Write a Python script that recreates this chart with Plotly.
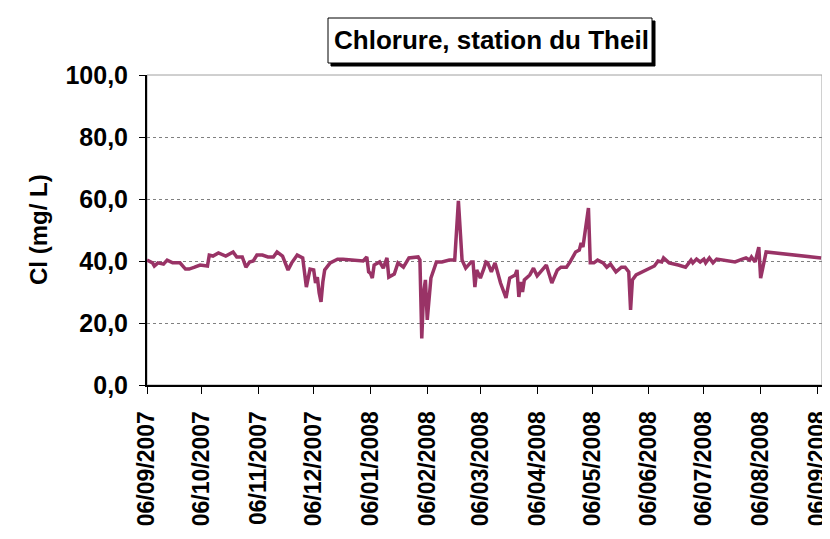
import plotly.graph_objects as go

# Chlorure measurements, station du Theil (mg/L)
dates = [
    "2007-09-06", "2007-09-09", "2007-09-10", "2007-09-12", "2007-09-15", "2007-09-17",
    "2007-09-20", "2007-09-24", "2007-09-27", "2007-09-29", "2007-10-02", "2007-10-05",
    "2007-10-09", "2007-10-10", "2007-10-12", "2007-10-15", "2007-10-19", "2007-10-23",
    "2007-10-25", "2007-10-28", "2007-10-30", "2007-11-01", "2007-11-03", "2007-11-05",
    "2007-11-08", "2007-11-11", "2007-11-14", "2007-11-16", "2007-11-19", "2007-11-22",
    "2007-11-24", "2007-11-27", "2007-11-30", "2007-12-01", "2007-12-02", "2007-12-04",
    "2007-12-06", "2007-12-07", "2007-12-08", "2007-12-09", "2007-12-10", "2007-12-11",
    "2007-12-12", "2007-12-15", "2007-12-19", "2007-12-22", "2007-12-27", "2007-12-29",
    "2008-01-02", "2008-01-04", "2008-01-05", "2008-01-06", "2008-01-07", "2008-01-08",
    "2008-01-11", "2008-01-13", "2008-01-15", "2008-01-16", "2008-01-19", "2008-01-21",
    "2008-01-24", "2008-01-27", "2008-02-01", "2008-02-02", "2008-02-03", "2008-02-04",
    "2008-02-05", "2008-02-06", "2008-02-08", "2008-02-11", "2008-02-14", "2008-02-18",
    "2008-02-21", "2008-02-23", "2008-02-25", "2008-02-27", "2008-03-01", "2008-03-02",
    "2008-03-03", "2008-03-04", "2008-03-06", "2008-03-08", "2008-03-09", "2008-03-10",
    "2008-03-12", "2008-03-14", "2008-03-17", "2008-03-20", "2008-03-22", "2008-03-25",
    "2008-03-26", "2008-03-27", "2008-03-28", "2008-03-29", "2008-03-30", "2008-04-02",
    "2008-04-04", "2008-04-06", "2008-04-11", "2008-04-14", "2008-04-17", "2008-04-19",
    "2008-04-22", "2008-04-24", "2008-04-27", "2008-04-29", "2008-04-30", "2008-05-01",
    "2008-05-04", "2008-05-05", "2008-05-07", "2008-05-09", "2008-05-12", "2008-05-14",
    "2008-05-16", "2008-05-19", "2008-05-22", "2008-05-24", "2008-05-26", "2008-05-27",
    "2008-05-28", "2008-05-30", "2008-06-04", "2008-06-09", "2008-06-11", "2008-06-13",
    "2008-06-14", "2008-06-17", "2008-06-22", "2008-06-26", "2008-06-29", "2008-06-30",
    "2008-07-02", "2008-07-04", "2008-07-06", "2008-07-07", "2008-07-09", "2008-07-11",
    "2008-07-13", "2008-07-22", "2008-07-23", "2008-07-27", "2008-07-29", "2008-07-31",
    "2008-08-01", "2008-08-03", "2008-08-05", "2008-08-06", "2008-08-09", "2008-09-08",
]
chlorure = [
    40.3, 39.4, 38.4, 39.4, 39.0, 40.3,
    39.4, 39.4, 37.4, 37.4, 38.0, 38.7,
    38.4, 41.9, 41.6, 42.6, 41.6, 42.9,
    41.3, 41.3, 38.0, 39.7, 40.0, 41.9,
    41.9, 41.3, 41.3, 42.9, 41.6, 37.1,
    39.4, 41.9, 41.0, 36.1, 31.6, 37.4,
    37.1, 32.9, 34.8, 29.7, 26.8, 33.2,
    37.1, 39.4, 40.6, 40.6, 40.3, 40.0,
    40.0, 41.3, 36.5, 36.0, 34.5, 38.7,
    39.7, 37.7, 41.0, 34.8, 35.8, 39.4,
    38.0, 41.0, 41.3, 40.3, 15.0, 29.7,
    33.9, 21.0, 34.5, 39.7, 39.7, 40.3,
    40.3, 59.4, 40.3, 37.7, 39.7, 39.7,
    31.6, 37.1, 34.5, 37.7, 39.7, 39.4,
    36.5, 39.4, 32.9, 28.1, 34.5, 35.5,
    37.1, 28.4, 33.2, 30.0, 33.9, 35.5,
    37.7, 35.2, 38.7, 32.9, 37.1, 38.0,
    38.0, 39.7, 42.9, 43.5, 45.8, 44.5,
    57.1, 39.4, 39.4, 40.3, 39.4, 38.0,
    39.0, 36.5, 38.0, 38.0, 36.5, 24.2,
    33.9, 35.5, 36.8, 38.4, 40.0, 39.7,
    41.0, 39.4, 38.7, 38.0, 40.3, 39.4,
    40.6, 39.7, 40.6, 39.4, 41.0, 39.4,
    40.6, 40.0, 39.7, 40.6, 41.0, 40.3,
    41.3, 39.7, 44.5, 34.5, 42.9, 41.0,
]

x_ticks = [
    "2007-09-06", "2007-10-06", "2007-11-06", "2007-12-06", "2008-01-06", "2008-02-06",
    "2008-03-06", "2008-04-06", "2008-05-06", "2008-06-06", "2008-07-06", "2008-08-06",
    "2008-09-06",
]
x_labels = [
    "06/09/2007", "06/10/2007", "06/11/2007", "06/12/2007", "06/01/2008", "06/02/2008",
    "06/03/2008", "06/04/2008", "06/05/2008", "06/06/2008", "06/07/2008", "06/08/2008",
    "06/09/2008",
]
y_ticks = [0, 20, 40, 60, 80, 100]
y_labels = ["0,0", "20,0", "40,0", "60,0", "80,0", "100,0"]

# the page body adds an 8px margin, so the figure is drawn 8px smaller
OFF = 8
W, H = 830 - OFF, 539 - OFF
L, R, T, B = 147 - OFF, 822 - OFF, 75 - OFF, 385 - OFF


def px(x):
    return (x - OFF - L) / (R - L)


def py(y):
    return (B - (y - OFF)) / (B - T)


FONT = "Liberation Sans, Arial, sans-serif"

fig = go.Figure()
fig.add_trace(go.Scatter(
    x=dates, y=chlorure, mode="lines",
    line=dict(color="#993366", width=3.5),
    showlegend=False,
))

fig.update_layout(
    width=W, height=H,
    margin=dict(l=L, r=W - R, t=T, b=H - B),
    paper_bgcolor="white", plot_bgcolor="white",
    font=dict(family=FONT, color="black"),
    xaxis=dict(
        type="date", automargin=False,
        range=["2007-09-06", "2008-09-08 12:00"],
        tickvals=x_ticks, ticktext=x_labels,
        tickangle=-90, ticklabeloverflow="allow", ticklabelstandoff=8,
        tickfont=dict(size=23, family=FONT, weight="bold"),
        ticks="outside", ticklen=7, tickcolor="black", tickwidth=1,
        showline=True, linecolor="black", linewidth=2,
        showgrid=False, zeroline=False,
    ),
    yaxis=dict(
        automargin=False,
        range=[0, 100],
        tickvals=y_ticks, ticktext=y_labels,
        ticklabelstandoff=6,
        tickfont=dict(size=25, family=FONT, weight="bold"),
        ticks="outside", ticklen=6, tickcolor="black", tickwidth=1,
        showline=True, linecolor="black", linewidth=2,
        showgrid=True, gridcolor="#808080", griddash="dot", gridwidth=1,
        zeroline=False,
    ),
    shapes=[
        # plot frame (gray top/right)
        dict(type="rect", xref="paper", yref="paper", x0=0, y0=0, x1=1, y1=1,
             line=dict(color="#a0a0a0", width=1), layer="below"),
        # title box shadow
        dict(type="rect", xref="paper", yref="paper",
             x0=px(331), y0=py(66), x1=px(655), y1=py(21),
             fillcolor="black", line=dict(color="black", width=1)),
        # title box
        dict(type="rect", xref="paper", yref="paper",
             x0=px(328), y0=py(63), x1=px(652), y1=py(18),
             fillcolor="white", line=dict(color="black", width=1)),
    ],
    annotations=[
        dict(text="<b>Chlorure, station du Theil</b>", xref="paper", yref="paper",
             x=px(491), y=py(40.5), xanchor="center", yanchor="middle",
             showarrow=False, font=dict(size=26, family=FONT)),
        dict(text="<b>Cl (mg/ L)</b>", xref="paper", yref="paper",
             x=px(38), y=py(230), xanchor="center", yanchor="middle",
             textangle=-90, showarrow=False, font=dict(size=24, family=FONT)),
    ],
)

fig.write_html("out.html")
